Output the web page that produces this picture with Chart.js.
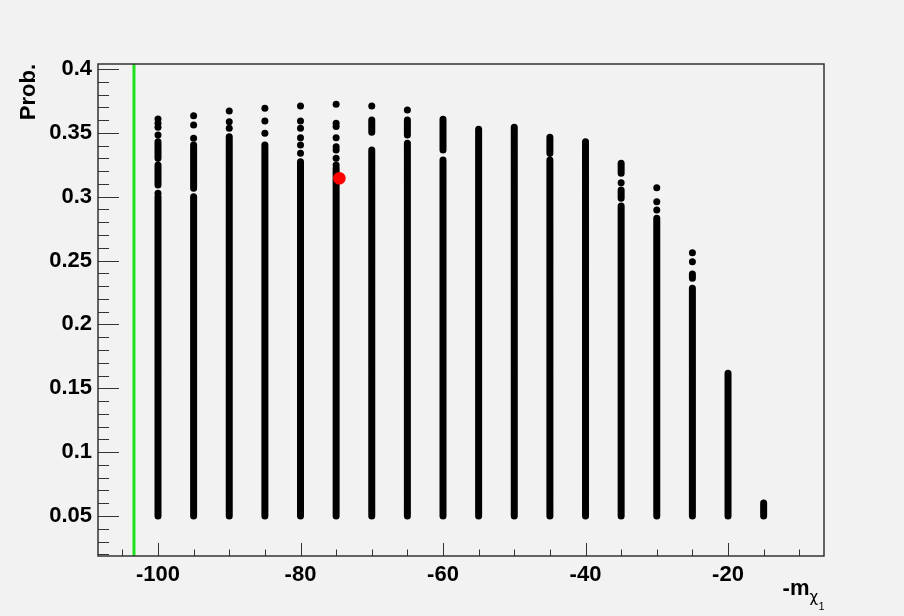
<!DOCTYPE html>
<html>
<head>
<meta charset="utf-8">
<script src="https://cdn.jsdelivr.net/npm/chart.js@4.4.1/dist/chart.umd.min.js"></script>
<style>
  html, body { margin: 0; padding: 0; background: #f2f2f2; }
  canvas { display: block; }
</style>
</head>
<body>
<canvas id="prob" width="904" height="616"></canvas>
<script>
// one column of scan points per -m_chi1 value
var massPoints = [-100, -95, -90, -85, -80, -75, -70, -65, -60, -55, -50, -45, -40, -35, -30, -25, -20, -15];
// every column starts here
var probFloor = 0.05;
// top of the solid part of each column
var solidTop = [0.300, 0.300, 0.347, 0.3405, 0.3274, 0.3222, 0.3366, 0.3418, 0.3287, 0.3528,
                0.3543, 0.3287, 0.3431, 0.2927, 0.2831, 0.2283, 0.1617, 0.0601];
// solid runs sitting above the main part
var upperRuns = [
  [[0.3092, 0.3248], [0.3301, 0.3431]],
  [[0.3066, 0.3405]],
  [], [], [], [],
  [[0.3504, 0.3601]],
  [[0.3483, 0.3601]],
  [[0.3366, 0.3606]],
  [], [],
  [[0.3340, 0.3465]],
  [],
  [[0.2988, 0.3053], [0.3183, 0.3261]],
  [],
  [[0.2361, 0.2395]],
  [], []
];
// single points near the top of the columns
var loosePoints = [
  [0.3027, 0.3483, 0.3543, 0.3575, 0.3608],
  [0.3457, 0.3561, 0.3634],
  [0.3535, 0.3587, 0.3671],
  [0.3496, 0.3593, 0.3692],
  [0.3340, 0.3405, 0.3462, 0.3535, 0.3593, 0.3710],
  [0.3248, 0.3301, 0.3366, 0.3392, 0.3462, 0.3549, 0.3575, 0.3723],
  [0.3710],
  [0.3679],
  [], [], [], [], [],
  [0.311],
  [0.2896, 0.2961, 0.3071],
  [0.2491, 0.2561],
  [], []
];
var bestPoint = [-74.55, 0.3144];
var limitMass = -103.37;

var xRange = [-108.42, -6.53];
var yRange = [0.0187, 0.4039];
var xTickLabels = [-100, -80, -60, -40, -20];
var yTickLabels = [0.05, 0.1, 0.15, 0.2, 0.25, 0.3, 0.35, 0.4];

var font = '"Liberation Sans", Arial, Helvetica, sans-serif';

var bandData = [];
var dotData = [];
massPoints.forEach(function (m, i) {
  bandData.push({x: m, y: probFloor}, {x: m, y: solidTop[i]}, {x: m, y: null});
  upperRuns[i].forEach(function (r) {
    bandData.push({x: m, y: r[0]}, {x: m, y: r[1]}, {x: m, y: null});
  });
  loosePoints[i].forEach(function (p) {
    dotData.push({x: m, y: p});
  });
});

var rootFrame = {
  id: 'rootFrame',
  beforeDraw: function (chart) {
    var ctx = chart.ctx;
    ctx.save();
    ctx.fillStyle = '#f2f2f2';
    ctx.fillRect(0, 0, chart.width, chart.height);
    ctx.restore();
  },
  afterDraw: function (chart) {
    var ctx = chart.ctx, a = chart.chartArea;
    var xs = chart.scales.x, ys = chart.scales.y;
    ctx.save();
    ctx.strokeStyle = '#333';
    ctx.lineWidth = 1.5;
    ctx.strokeRect(a.left, a.top, a.right - a.left, a.bottom - a.top);

    // inward ticks, ROOT style
    ctx.lineWidth = 1;
    ctx.beginPath();
    for (var v = -105; v <= -10; v += 5) {
      var px = Math.round(xs.getPixelForValue(v)) + 0.5;
      var len = v % 20 === 0 ? 13 : 6.5;
      ctx.moveTo(px, a.bottom);
      ctx.lineTo(px, a.bottom - len);
    }
    for (var k = 2; k <= 40; k++) {
      var py = Math.round(ys.getPixelForValue(k / 100)) + 0.5;
      var ylen = k % 5 === 0 ? 21 : 11;
      ctx.moveTo(a.left, py);
      ctx.lineTo(a.left + ylen, py);
    }
    ctx.stroke();

    // x title: -m with chi_1 subscript
    ctx.fillStyle = '#000';
    ctx.textBaseline = 'alphabetic';
    ctx.textAlign = 'right';
    ctx.font = 'bold 22px ' + font;
    var tx = a.right - 14.5;
    ctx.fillText('-m', tx, a.bottom + 39);
    ctx.textAlign = 'left';
    ctx.font = '15px "DejaVu Sans", sans-serif';
    ctx.fillText('\u03c7', tx, a.bottom + 46);
    ctx.font = '11px ' + font;
    ctx.fillText('1', tx + 9, a.bottom + 54);
    ctx.restore();
  }
};

new Chart(document.getElementById('prob'), {
  type: 'scatter',
  data: {
    datasets: [{
      data: [{x: bestPoint[0], y: bestPoint[1]}],
      pointRadius: 6.3,
      pointBackgroundColor: '#ff0000',
      pointBorderWidth: 0,
      order: 0
    }, {
      data: dotData,
      pointRadius: 3.5,
      pointBackgroundColor: '#000',
      pointBorderWidth: 0,
      order: 1
    }, {
      data: bandData,
      showLine: true,
      spanGaps: false,
      borderColor: '#000',
      borderWidth: 7,
      borderCapStyle: 'round',
      pointRadius: 0,
      order: 2
    }, {
      data: [{x: limitMass, y: yRange[0]}, {x: limitMass, y: yRange[1]}],
      showLine: true,
      borderColor: '#1ee21e',
      borderWidth: 3,
      pointRadius: 0,
      order: 3
    }]
  },
  options: {
    responsive: false,
    animation: false,
    events: [],
    layout: { padding: { top: 64, right: 80, bottom: 0, left: 0 } },
    plugins: { legend: { display: false }, tooltip: { enabled: false } },
    scales: {
      x: {
        type: 'linear',
        min: xRange[0],
        max: xRange[1],
        grid: { display: false, drawTicks: false },
        border: { display: false },
        afterBuildTicks: function (s) {
          s.ticks = xTickLabels.map(function (v) { return {value: v}; });
        },
        afterFit: function (s) { s.height = 60; },
        ticks: {
          color: '#000',
          padding: 6,
          maxRotation: 0,
          autoSkip: false,
          font: { family: font, size: 22, weight: 'bold' },
          callback: function (v) { return String(v); }
        }
      },
      y: {
        type: 'linear',
        min: yRange[0],
        max: yRange[1],
        grid: { display: false, drawTicks: false },
        border: { display: false },
        afterBuildTicks: function (s) {
          s.ticks = yTickLabels.map(function (v) { return {value: v}; });
        },
        afterFit: function (s) { s.width = 98; },
        title: {
          display: true,
          text: 'Prob.',
          align: 'end',
          color: '#000',
          padding: { top: 16, bottom: 0 },
          font: { family: font, size: 22, weight: 'bold' }
        },
        ticks: {
          color: '#000',
          padding: 6,
          autoSkip: false,
          font: { family: font, size: 22, weight: 'bold' },
          callback: function (v) { return String(v); }
        }
      }
    }
  },
  plugins: [rootFrame]
});
</script>
</body>
</html>
